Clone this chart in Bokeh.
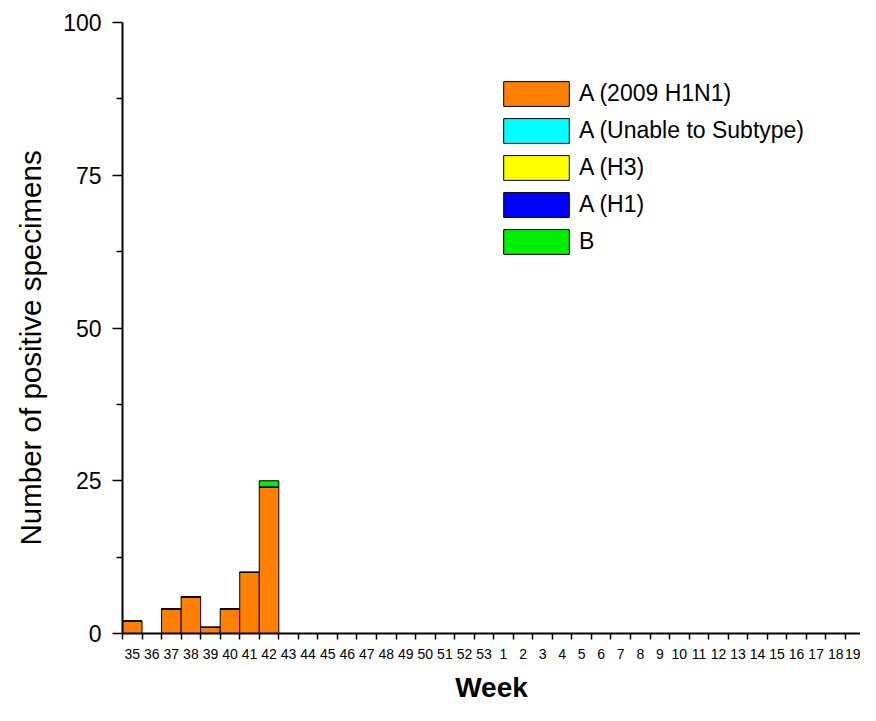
from bokeh.plotting import figure
from bokeh.models import Range1d, FixedTicker, Legend, LegendItem, ColumnDataSource, Title
from bokeh.embed import file_html
from bokeh.resources import INLINE

weeks = ["35", "36", "37", "38", "39", "40", "41", "42", "43", "44", "45", "46", "47",
         "48", "49", "50", "51", "52", "53", "1", "2", "3", "4", "5", "6", "7", "8", "9",
         "10", "11", "12", "13", "14", "15", "16", "17", "18", "19", "20"]
a_2009_h1n1 = [2, 0, 4, 6, 1, 4, 10, 24, 0, 0, 0, 0, 0, 0, 0, 0, 0, 0, 0, 0,
               0, 0, 0, 0, 0, 0, 0, 0, 0, 0, 0, 0, 0, 0, 0, 0, 0, 0, 0]
a_unable = [0, 0, 0, 0, 0, 0, 0, 0, 0, 0, 0, 0, 0, 0, 0, 0, 0, 0, 0, 0,
            0, 0, 0, 0, 0, 0, 0, 0, 0, 0, 0, 0, 0, 0, 0, 0, 0, 0, 0]
a_h3 = [0, 0, 0, 0, 0, 0, 0, 0, 0, 0, 0, 0, 0, 0, 0, 0, 0, 0, 0, 0,
        0, 0, 0, 0, 0, 0, 0, 0, 0, 0, 0, 0, 0, 0, 0, 0, 0, 0, 0]
a_h1 = [0, 0, 0, 0, 0, 0, 0, 0, 0, 0, 0, 0, 0, 0, 0, 0, 0, 0, 0, 0,
        0, 0, 0, 0, 0, 0, 0, 0, 0, 0, 0, 0, 0, 0, 0, 0, 0, 0, 0]
b = [0, 0, 0, 0, 0, 0, 0, 1, 0, 0, 0, 0, 0, 0, 0, 0, 0, 0, 0, 0,
     0, 0, 0, 0, 0, 0, 0, 0, 0, 0, 0, 0, 0, 0, 0, 0, 0, 0, 0]

series_names = ["A (2009 H1N1)", "A (Unable to Subtype)", "A (H3)", "A (H1)", "B"]
series_keys = ["h1n1", "unable", "h3", "h1", "b"]
series_colors = ["#FF8000", "#00FFFF", "#FFFF00", "#0000FF", "#00EE00"]
y_ticks = [0, 25, 50, 75, 100]
y_minor_ticks = [12.5, 37.5, 62.5, 87.5]
y_title = "Number of positive specimens"
x_title = "Week"

FONT = "Liberation Sans"

idx = list(range(len(weeks)))
src = ColumnDataSource(dict(x=idx, h1n1=a_2009_h1n1, unable=a_unable, h3=a_h3, h1=a_h1, b=b))

p = figure(width=860, height=705, output_backend="svg", toolbar_location=None,
           x_range=Range1d(-0.5, 37.27), y_range=Range1d(0, 100),
           min_border_left=122, min_border_right=0, min_border_top=22, min_border_bottom=72)
p.outline_line_color = None
p.xgrid.grid_line_color = None
p.ygrid.grid_line_color = None

rends = p.vbar_stack(series_keys, x="x", width=1.0, color=series_colors,
                     line_color="black", line_width=1, source=src)

# x axis
xa = p.xaxis[0]
xa.ticker = FixedTicker(ticks=idx, minor_ticks=[i - 0.5 for i in range(len(weeks) + 1)])
xa.major_label_overrides = {i: w for i, w in zip(idx, weeks)}
xa.major_tick_out = 0
xa.major_tick_in = 0
xa.minor_tick_out = 6
xa.minor_tick_in = 0
xa.minor_tick_line_color = "black"
xa.minor_tick_line_width = 1.5
xa.axis_line_width = 2
xa.axis_line_color = "black"
xa.major_label_text_font = FONT
xa.major_label_text_font_size = "14px"
xa.major_label_text_color = "black"
xa.major_label_standoff = 9
xa.axis_label = x_title
xa.axis_label_text_font = FONT
xa.axis_label_text_font_size = "28px"
xa.axis_label_text_font_style = "bold"
xa.axis_label_text_color = "black"
xa.axis_label_standoff = 10

# y axis
ya = p.yaxis[0]
ya.ticker = FixedTicker(ticks=y_ticks, minor_ticks=y_minor_ticks)
ya.major_tick_out = 10
ya.major_tick_in = 0
ya.minor_tick_out = 6
ya.minor_tick_in = 0
ya.major_tick_line_width = 1.5
ya.minor_tick_line_width = 1.5
ya.major_tick_line_color = "black"
ya.minor_tick_line_color = "black"
ya.axis_line_width = 2
ya.axis_line_color = "black"
ya.major_label_text_font = FONT
ya.major_label_text_font_size = "23px"
ya.major_label_text_color = "black"
ya.major_label_standoff = 11

ytitle = Title(text=y_title, align="left", offset=88, vertical_align="top",
               text_font=FONT, text_font_size="29.5px", text_font_style="normal",
               text_color="black", standoff=24)
p.add_layout(ytitle, "left")

legend = Legend(items=[LegendItem(label=n, renderers=[r]) for n, r in zip(series_names, rends)],
                location=(373, 376))
legend.padding = 0
legend.margin = 0
legend.border_line_color = None
legend.background_fill_alpha = 0
legend.glyph_width = 82
legend.glyph_height = 31
legend.label_height = 25
legend.spacing = 6
legend.label_standoff = 2
legend.label_text_font = FONT
legend.label_text_font_size = "23px"
legend.label_text_color = "black"
p.add_layout(legend)

open("out.html", "w").write(file_html(p, INLINE))
